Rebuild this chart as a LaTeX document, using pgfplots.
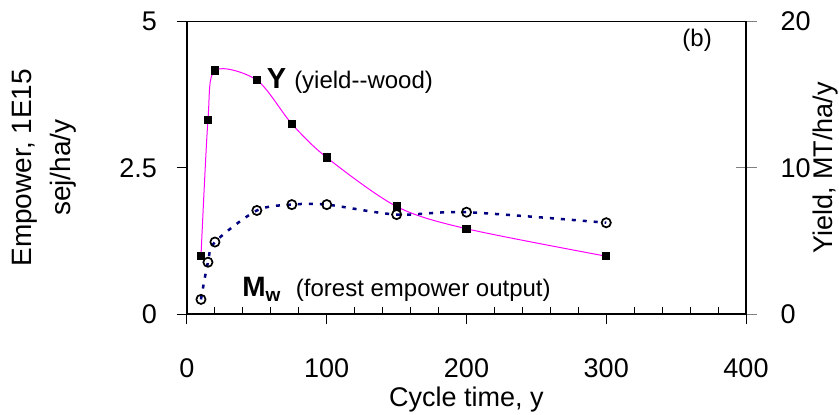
\documentclass[border=0pt]{standalone}
\usepackage{pgfplots}
\pgfplotsset{compat=1.18}
\usepackage{fontspec}
\setmainfont{Liberation Sans}
\definecolor{navyline}{HTML}{000080}
\definecolor{mag}{HTML}{FF00FF}
\begin{document}
\fontsize{27bp}{32bp}\selectfont
\begin{tikzpicture}
\path[use as bounding box] (-187bp,-101bp) rectangle (652bp,314bp);
% ---------- Yield (right axis) ----------
\begin{axis}[
  scale only axis, width=559bp, height=292.5bp,
  xmin=0, xmax=400, ymin=0, ymax=20,
  axis x line=none, axis y line*=right,
  ytick={0,10,20},
  ytick align=center, major tick length=21bp,
  y axis line style={black!75, line width=1bp},
  ytick style={black!50, line width=1bp},
  yticklabel style={anchor=west, inner sep=0pt, xshift=24bp},
  /pgf/number format/assume math mode=true,
  ylabel={Yield, MT/ha/y},
  ylabel style={at={(axis description cs:1.1424,0.5)}, anchor=center},
]
\addplot[mag, line width=1bp, smooth, tension=0.5, mark=square*, mark size=3.6bp,
  mark options={black, fill=black, line width=0pt}]
  coordinates {(10,3.95) (15,13.28) (20,16.65) (50,15.99) (75,13.0) (100,10.7) (150,7.35) (200,5.83) (300,3.95)};
\end{axis}
% ---------- Empower (left axis) ----------
\begin{axis}[
  scale only axis, width=559bp, height=292.5bp,
  xmin=0, xmax=400, ymin=0, ymax=5,
  axis line style={line width=1.3bp},
  xtick={0,100,200,300,400}, ytick={0,2.5,5},
  minor x tick num=4,
  xtick pos=lower, ytick pos=left,
  tick align=outside, major tick length=10bp, minor tick length=7bp,
  tick style={black, line width=1bp},
  minor x tick style={yshift=7bp},
  yticklabel style={anchor=east, inner sep=0pt, xshift=-20bp},
  xticklabel style={anchor=base, inner sep=0pt, yshift=-53bp},
  /pgf/number format/assume math mode=true,
  xlabel={Cycle time, y},
  xlabel style={at={(axis description cs:0.5,-0.3168)}, anchor=base},
  ylabel={Empower, 1E15\\sej/ha/y},
  ylabel style={at={(axis description cs:-0.255,0.5)}, anchor=center, align=center, font=\fontsize{28bp}{39bp}\selectfont},
  clip=false,
]
\addplot[navyline, line width=2.5bp, smooth, tension=0.5, dash pattern=on 4bp off 7bp,
  mark=o, mark size=4.6bp, mark options={black, solid, fill=white, line width=1.7bp}]
  coordinates {(10,0.25) (15,0.885) (20,1.23) (50,1.77) (75,1.87) (100,1.87) (150,1.70) (200,1.74) (300,1.56)};
\node[anchor=base west, inner sep=0pt] at (axis cs:57,3.855)
  {\fontsize{29bp}{30bp}\selectfont\bfseries Y\ \fontsize{24bp}{28bp}\selectfont\mdseries (yield-{}-wood)};
\node[anchor=base west, inner sep=0pt] at (axis cs:39.4,0.30)
  {\fontsize{28bp}{30bp}\selectfont\bfseries M\raisebox{-5bp}{\fontsize{19bp}{20bp}\selectfont w}\ \ \fontsize{24bp}{28bp}\selectfont\mdseries (forest empower output)};
\node[anchor=center, inner sep=0pt] at (axis cs:365,4.675) {\fontsize{24bp}{28bp}\selectfont (b)};
\end{axis}
\end{tikzpicture}
\end{document}
